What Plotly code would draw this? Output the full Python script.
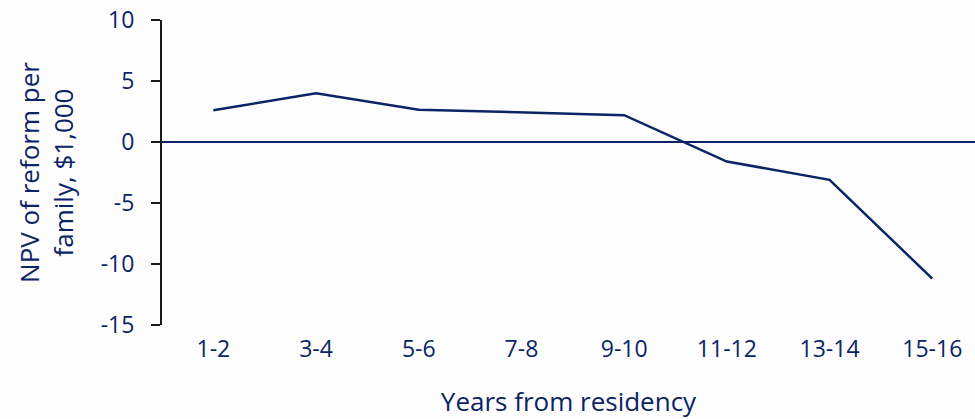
import plotly.graph_objects as go

categories = ["1-2", "3-4", "5-6", "7-8", "9-10", "11-12", "13-14", "15-16"]
npv_values = [2.6, 4.0, 2.65, 2.4, 2.2, -1.6, -3.1, -11.2]
y_ticks = [-15, -10, -5, 0, 5, 10]
y_tick_labels = ["-15", "-10", "-5", "0", "5", "10"]

NAVY = "#0b2466"
FONT = "Open Sans, Noto Sans, Arial, sans-serif"

fig = go.Figure()
fig.add_trace(go.Scatter(
    x=list(range(len(categories))), y=npv_values, mode="lines",
    line=dict(color=NAVY, width=2.5), showlegend=False, hoverinfo="skip"))

fig.update_layout(
    width=975, height=419,
    margin=dict(l=162, r=0, t=20, b=94),
    paper_bgcolor="#fdfdfd", plot_bgcolor="#fdfdfd",
    font=dict(family=FONT, size=23, color=NAVY),
)
fig.update_xaxes(
    range=[-0.5, 7.416], tickmode="array",
    tickvals=list(range(len(categories))), ticktext=categories,
    showgrid=False, zeroline=False, showline=False, ticks="",
    automargin=False, ticklabelstandoff=8,
    title=dict(text="Years from residency", standoff=32, font=dict(size=26, color=NAVY)),
    tickfont=dict(size=23, color=NAVY),
)
fig.update_yaxes(
    range=[-15, 10], tickmode="array", tickvals=y_ticks, ticktext=y_tick_labels,
    showgrid=False, zeroline=True, zerolinecolor=NAVY, zerolinewidth=2,
    showline=True, linecolor="#1a1a1a", linewidth=2,
    ticks="outside", ticklen=9, tickwidth=2, tickcolor="#1a1a1a",
    automargin=False, ticklabelstandoff=12,
    tickfont=dict(size=23, color=NAVY),
    title=dict(text="NPV of reform per<br>family, $1,000", standoff=20, font=dict(size=26, color=NAVY)),
)

fig.write_html(
    "out.html",
    config={"displayModeBar": False},
    post_script="document.body.style.margin='0';document.body.style.overflow='hidden';",
)
